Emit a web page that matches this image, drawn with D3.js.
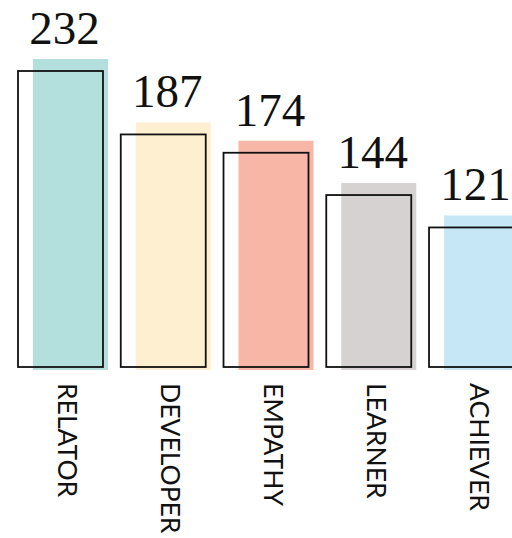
<!DOCTYPE html>
<html>
<head>
<meta charset="utf-8">
<script src="https://cdn.jsdelivr.net/npm/d3@7"></script>
<style>
  body { margin: 0; background: #fff; }
  .value { font-family: "Liberation Serif", serif; font-size: 47px; fill: #111; }
  .cat { font-family: Lato, "Noto Sans", sans-serif; font-size: 26.5px; fill: #111; }
</style>
</head>
<body>
<div id="chart"></div>
<script>
// Data
const categories = ["RELATOR", "DEVELOPER", "EMPATHY", "LEARNER", "ACHIEVER"];
const values = [232, 187, 174, 144, 121];
const colors = ["#b3dfdd", "#feefd0", "#f7b6a6", "#d7d2d2", "#c6e7f6"];

const width = 512, height = 538;
const baseline = 367;

let svg = d3.select("#chart")
  .append("svg")
  .attr("width", width)
  .attr("height", height);

// Scales
let xScale = d3.scaleBand()
  .domain(categories)
  .range([18, 514])
  .paddingInner(0.173)
  .paddingOuter(0);

let yScale = d3.scaleLinear()
  .domain([22, 232])
  .range([baseline, 71]);

const data = categories.map((c, i) => ({ cat: c, value: values[i], color: colors[i] }));

// Coloured fill bars, shifted right and up from the outline
svg.selectAll(".fill")
  .data(data)
  .enter().append("rect")
  .attr("class", "fill")
  .attr("x", d => xScale(d.cat) + 15)
  .attr("y", d => yScale(d.value) - 12)
  .attr("width", 75)
  .attr("height", d => baseline + 3 - (yScale(d.value) - 12))
  .attr("fill", d => d.color);

// Black outline bars
svg.selectAll(".outline")
  .data(data)
  .enter().append("rect")
  .attr("class", "outline")
  .attr("x", d => xScale(d.cat))
  .attr("y", d => yScale(d.value))
  .attr("width", xScale.bandwidth())
  .attr("height", d => baseline - yScale(d.value))
  .attr("fill", "none")
  .attr("stroke", "#111")
  .attr("stroke-width", 1.8);

// Value labels
svg.selectAll(".value")
  .data(data)
  .enter().append("text")
  .attr("class", "value")
  .attr("x", d => xScale(d.cat) + xScale.bandwidth() / 2 + 4)
  .attr("y", d => yScale(d.value) - 27)
  .attr("text-anchor", "middle")
  .text(d => d.value);

// Rotated category labels
svg.selectAll(".cat")
  .data(data)
  .enter().append("text")
  .attr("class", "cat")
  .attr("transform", d => `translate(${xScale(d.cat) + xScale.bandwidth() / 2 - 2},383) rotate(90)`)
  .text(d => d.cat);
</script>
</body>
</html>
